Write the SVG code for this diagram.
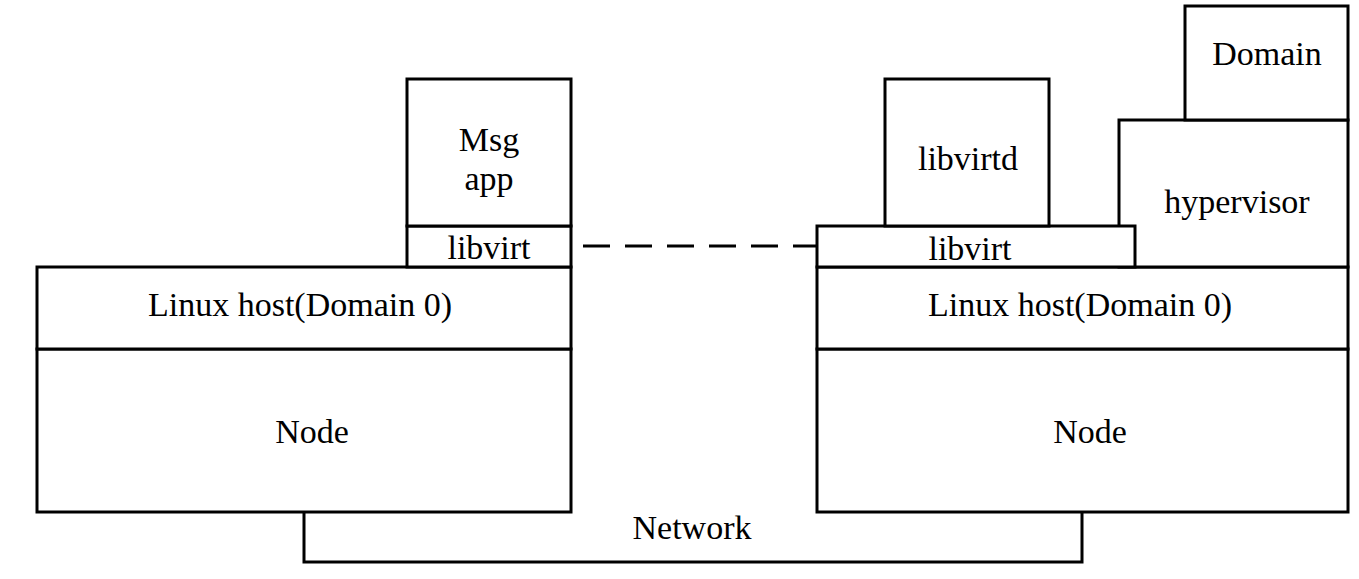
<svg xmlns="http://www.w3.org/2000/svg" width="1359" height="579" viewBox="0 0 1359 579">
<style>
.box{fill:#fff;stroke:#000;stroke-width:3}
.lbl{font-family:"Liberation Serif","Times New Roman",serif;font-size:34px;fill:#000;text-anchor:middle}
.conn{fill:none;stroke:#000;stroke-width:3}
</style>
<rect width="1359" height="579" fill="#fff"/>
<g id="connectors">
<path class="conn" d="M304,512 V562 H1082 V512"/>
<line class="conn" x1="583" y1="246" x2="816" y2="246" stroke-dasharray="27,15"/>
</g>
<g id="left-node"><rect class="box" x="37" y="349" width="534" height="163"/><text class="lbl" x="312" y="443">Node</text></g>
<g id="left-linux"><rect class="box" x="37" y="267" width="534" height="82"/><text class="lbl" x="300" y="316">Linux host(Domain 0)</text></g>
<g id="left-libvirt"><rect class="box" x="407" y="226" width="164" height="41"/><text class="lbl" x="489" y="259">libvirt</text></g>
<g id="msg-app"><rect class="box" x="407" y="79" width="164" height="147"/><text class="lbl" x="489" y="151">Msg</text><text class="lbl" x="489" y="190">app</text></g>
<g id="right-node"><rect class="box" x="817" y="349" width="531" height="163"/><text class="lbl" x="1090" y="443">Node</text></g>
<g id="right-linux"><rect class="box" x="817" y="267" width="531" height="82"/><text class="lbl" x="1080" y="316">Linux host(Domain 0)</text></g>
<g id="hypervisor"><rect class="box" x="1119" y="120" width="229" height="147"/><text class="lbl" x="1237" y="213">hypervisor</text></g>
<g id="right-libvirt"><rect class="box" x="817" y="226" width="318" height="41"/><text class="lbl" x="970" y="260">libvirt</text></g>
<g id="libvirtd"><rect class="box" x="885" y="79" width="164" height="147"/><text class="lbl" x="968" y="170">libvirtd</text></g>
<g id="domain"><rect class="box" x="1185" y="6" width="163" height="114"/><text class="lbl" x="1267" y="65">Domain</text></g>
<g id="network-label"><text class="lbl" x="692" y="539">Network</text></g>
</svg>
